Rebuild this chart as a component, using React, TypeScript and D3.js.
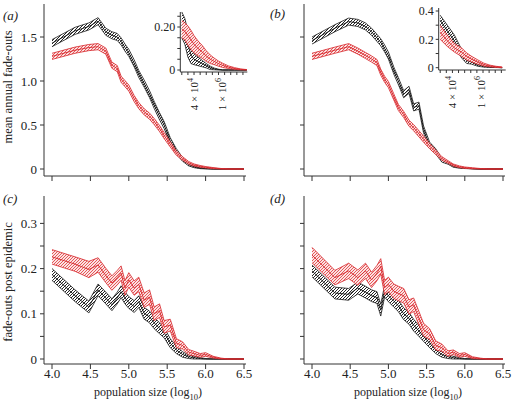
import React from "react";
import * as d3 from "d3";

// ---------- data ----------
const popLog = [4.0, 4.3, 4.48, 4.6, 4.7, 4.78, 4.85, 4.9, 4.95, 5.0, 5.07, 5.13, 5.2, 5.27, 5.33, 5.4, 5.46, 5.54, 5.62, 5.7, 5.78, 5.85, 5.93, 6.0, 6.1, 6.2, 6.3, 6.4, 6.5];

const aBlackMean = [1.43, 1.57, 1.62, 1.68, 1.56, 1.52, 1.5, 1.45, 1.38, 1.32, 1.2, 1.08, 0.97, 0.85, 0.73, 0.6, 0.5, 0.32, 0.2, 0.11, 0.05, 0.025, 0.01, 0.004, 0, 0, 0, 0, 0];
const aBlackErr = [0.04, 0.04, 0.04, 0.04, 0.04, 0.04, 0.04, 0.04, 0.04, 0.04, 0.04, 0.04, 0.04, 0.04, 0.04, 0.04, 0.04, 0.035, 0.03, 0.022, 0.015, 0.01, 0.006, 0.003, 0.001, 0, 0, 0, 0];
const aRedMean = [1.28, 1.35, 1.38, 1.39, 1.34, 1.18, 1.14, 1.02, 0.97, 0.92, 0.8, 0.72, 0.65, 0.6, 0.54, 0.46, 0.38, 0.28, 0.18, 0.12, 0.07, 0.045, 0.03, 0.02, 0.01, 0.003, 0, 0, 0];
const aRedErr = [0.035, 0.035, 0.035, 0.035, 0.035, 0.035, 0.035, 0.035, 0.035, 0.035, 0.035, 0.035, 0.035, 0.035, 0.035, 0.035, 0.035, 0.03, 0.025, 0.02, 0.015, 0.012, 0.01, 0.008, 0.006, 0.003, 0.001, 0, 0];

const bBlackMean = [1.46, 1.6, 1.675, 1.66, 1.62, 1.56, 1.49, 1.44, 1.37, 1.29, 1.12, 1.0, 0.85, 0.9, 0.7, 0.72, 0.45, 0.27, 0.2, 0.1, 0.07, 0.03, 0.015, 0.008, 0.003, 0, 0, 0, 0];
const bBlackErr = [0.04, 0.04, 0.04, 0.04, 0.04, 0.04, 0.04, 0.04, 0.04, 0.04, 0.04, 0.04, 0.04, 0.04, 0.04, 0.04, 0.04, 0.035, 0.03, 0.022, 0.015, 0.01, 0.006, 0.003, 0.001, 0, 0, 0, 0];
const bRedMean = [1.28, 1.35, 1.39, 1.34, 1.29, 1.25, 1.21, 1.1, 1.02, 0.96, 0.82, 0.7, 0.62, 0.52, 0.47, 0.4, 0.34, 0.26, 0.19, 0.12, 0.08, 0.045, 0.025, 0.015, 0.008, 0.003, 0, 0, 0];
const bRedErr = [0.035, 0.035, 0.035, 0.035, 0.035, 0.035, 0.035, 0.035, 0.035, 0.035, 0.035, 0.035, 0.035, 0.035, 0.035, 0.035, 0.035, 0.03, 0.025, 0.02, 0.015, 0.012, 0.01, 0.008, 0.006, 0.003, 0.001, 0, 0];

const cBlackMean = [0.187, 0.14, 0.115, 0.153, 0.135, 0.12, 0.135, 0.149, 0.135, 0.125, 0.116, 0.127, 0.101, 0.093, 0.08, 0.068, 0.058, 0.035, 0.02, 0.01, 0.005, 0.003, 0.001, 0, 0, 0, 0, 0, 0];
const cBlackErr = [0.013, 0.013, 0.013, 0.013, 0.013, 0.013, 0.013, 0.013, 0.013, 0.013, 0.013, 0.013, 0.013, 0.013, 0.013, 0.012, 0.011, 0.01, 0.008, 0.006, 0.004, 0.003, 0.002, 0.001, 0, 0, 0, 0, 0];
const cRedMean = [0.226, 0.21, 0.198, 0.208, 0.185, 0.168, 0.18, 0.19, 0.157, 0.175, 0.157, 0.165, 0.13, 0.137, 0.1, 0.107, 0.071, 0.075, 0.035, 0.03, 0.015, 0.012, 0.008, 0.01, 0.004, 0.001, 0, 0, 0];
const cRedErr = [0.016, 0.016, 0.018, 0.016, 0.016, 0.016, 0.016, 0.016, 0.016, 0.016, 0.016, 0.016, 0.016, 0.016, 0.015, 0.015, 0.014, 0.013, 0.01, 0.008, 0.006, 0.005, 0.004, 0.004, 0.002, 0.001, 0, 0, 0];

const dBlackMean = [0.195, 0.146, 0.143, 0.157, 0.148, 0.14, 0.136, 0.108, 0.15, 0.14, 0.128, 0.118, 0.1, 0.09, 0.075, 0.062, 0.05, 0.035, 0.02, 0.01, 0.005, 0.003, 0.001, 0, 0, 0, 0, 0, 0];
const dBlackErr = [0.013, 0.013, 0.013, 0.013, 0.013, 0.013, 0.013, 0.013, 0.013, 0.013, 0.013, 0.013, 0.013, 0.013, 0.013, 0.012, 0.011, 0.01, 0.008, 0.006, 0.004, 0.003, 0.002, 0.001, 0, 0, 0, 0, 0];
const dRedMean = [0.23, 0.18, 0.195, 0.18, 0.195, 0.175, 0.19, 0.205, 0.158, 0.165, 0.15, 0.145, 0.14, 0.115, 0.12, 0.09, 0.065, 0.055, 0.03, 0.025, 0.012, 0.015, 0.008, 0.01, 0.003, 0.001, 0, 0, 0];
const dRedErr = [0.017, 0.016, 0.017, 0.017, 0.017, 0.017, 0.017, 0.017, 0.016, 0.016, 0.016, 0.016, 0.016, 0.016, 0.015, 0.015, 0.014, 0.012, 0.01, 0.008, 0.006, 0.005, 0.004, 0.004, 0.002, 0.001, 0, 0, 0];

const insetALog = [4.0, 4.15, 4.3, 4.45, 4.6, 4.8, 5.0, 5.2, 5.4, 5.6, 5.8, 6.0, 6.3, 6.6, 6.9, 7.2];
const insetABlackMean = [0.21, 0.18, 0.12, 0.07, 0.05, 0.04, 0.03, 0.02, 0.01, 0.005, 0.002, 0, 0, 0, 0, 0];
const insetABlackErr = [0.06, 0.06, 0.06, 0.04, 0.025, 0.02, 0.015, 0.01, 0.008, 0.004, 0.002, 0, 0, 0, 0, 0];
const insetARedMean = [0.19, 0.18, 0.16, 0.14, 0.12, 0.1, 0.085, 0.065, 0.05, 0.04, 0.03, 0.022, 0.013, 0.007, 0.003, 0.001];
const insetARedErr = [0.04, 0.04, 0.045, 0.045, 0.04, 0.035, 0.03, 0.025, 0.02, 0.015, 0.012, 0.01, 0.006, 0.004, 0.002, 0.001];

const insetBLog = [4.0, 4.35, 4.7, 5.05, 5.3, 5.55, 5.85, 6.15, 6.45, 6.75, 7.05];
const insetBBlackMean = [0.335, 0.26, 0.19, 0.1, 0.05, 0.04, 0.02, 0.01, 0.005, 0.002, 0];
const insetBBlackErr = [0.035, 0.04, 0.04, 0.03, 0.02, 0.015, 0.01, 0.006, 0.003, 0.001, 0];
const insetBRedMean = [0.25, 0.19, 0.14, 0.11, 0.08, 0.06, 0.04, 0.022, 0.012, 0.006, 0.003];
const insetBRedErr = [0.05, 0.04, 0.03, 0.03, 0.025, 0.02, 0.015, 0.01, 0.006, 0.004, 0.002];

const xTicks = [4.0, 4.5, 5.0, 5.5, 6.0, 6.5];
const topYTicks = [0, 0.5, 1.0, 1.5];
const topYLabels = ["0", "0.5", "1.0", "1.5"];
const botYTicks = [0, 0.05, 0.1, 0.15, 0.2, 0.25, 0.3];
const botYLabels = ["0", "", "0.1", "", "0.2", "", "0.3"];
const insetXTicks = d3.range(0, 11).map((k) => Math.log10(1e4 * Math.pow(2, k)));
const insetXLabelVals = [Math.log10(4e4), 6];
const insetXLabelMant = ["4", "1"];
const insetXLabelExp = ["4", "6"];
const insetAYTicks = [0, 0.05, 0.1, 0.15, 0.2, 0.25];
const insetAYLabels = ["0", "", "", "", "0.20", ""];
const insetBYTicks = [0, 0.1, 0.2, 0.3, 0.4];
const insetBYLabels = ["0", "", "0.2", "", "0.4"];

const FONT = "'Liberation Serif', 'Times New Roman', serif";
const RED = "#d7262b";
const BLACK = "#1a1a1a";

type Sc = d3.ScaleLinear<number, number>;

function Band({ xs, mean, err, x, y, kind }: { xs: number[]; mean: number[]; err: number[]; x: Sc; y: Sc; kind: "k" | "r" }) {
  const idx = xs.map((_, i) => i);
  const area = d3
    .area<number>()
    .x((i) => x(xs[i]))
    .y0((i) => y(Math.max(0, mean[i] - err[i])))
    .y1((i) => y(mean[i] + err[i]));
  const lo = d3.line<number>().x((i) => x(xs[i])).y((i) => y(Math.max(0, mean[i] - err[i])));
  const hi = d3.line<number>().x((i) => x(xs[i])).y((i) => y(mean[i] + err[i]));
  const mid = d3.line<number>().x((i) => x(xs[i])).y((i) => y(mean[i]));
  const col = kind === "k" ? BLACK : RED;
  return (
    <g>
      <path d={area(idx) || ""} fill={kind === "k" ? "url(#hatchK)" : "url(#hatchR)"} stroke="none" />
      <path d={lo(idx) || ""} fill="none" stroke={col} strokeWidth={0.8} />
      <path d={hi(idx) || ""} fill="none" stroke={col} strokeWidth={0.8} />
      <path d={mid(idx) || ""} fill="none" stroke={col} strokeWidth={0.9} />
    </g>
  );
}

function MainPanel(props: {
  axisX: number; x: Sc; y: Sc; xAxisY: number; axisTop: number;
  yTicks: number[]; yLabels: string[] | null; xLabels: boolean;
  black: [number[], number[]]; red: [number[], number[]];
}) {
  const { axisX, x, y, xAxisY, axisTop, yTicks, yLabels, xLabels, black, red } = props;
  const axisCol = "#333";
  return (
    <g>
      <line x1={axisX} x2={axisX} y1={axisTop} y2={xAxisY} stroke={axisCol} strokeWidth={1} />
      <line x1={axisX} x2={x(6.5) + 2} y1={xAxisY} y2={xAxisY} stroke={axisCol} strokeWidth={1} />
      {yTicks.map((t, i) => (
        <g key={"y" + i}>
          <line x1={axisX - 4} x2={axisX} y1={y(t)} y2={y(t)} stroke={axisCol} />
          {yLabels && yLabels[i] ? (
            <text x={axisX - 7} y={y(t)} dy="0.35em" textAnchor="end" fontSize={13} fontFamily={FONT} fill="#222">
              {yLabels[i]}
            </text>
          ) : null}
        </g>
      ))}
      {xTicks.map((t, i) => (
        <g key={"x" + i}>
          <line x1={x(t)} x2={x(t)} y1={xAxisY} y2={xAxisY + 5} stroke={axisCol} />
          {xLabels ? (
            <text x={x(t)} y={xAxisY + 14} textAnchor="middle" fontSize={13} fontFamily={FONT} fill="#222">
              {t.toFixed(1)}
            </text>
          ) : null}
        </g>
      ))}
      <Band xs={popLog} mean={black[0]} err={black[1]} x={x} y={y} kind="k" />
      <Band xs={popLog} mean={red[0]} err={red[1]} x={x} y={y} kind="r" />
    </g>
  );
}

function Inset(props: {
  axisX: number; y: Sc; xAxisY: number; axisTop: number; yTicks: number[]; yLabels: string[];
  xs: number[]; black: [number[], number[]]; red: [number[], number[]];
}) {
  const { axisX, y, xAxisY, axisTop, yTicks, yLabels, xs, black, red } = props;
  const x = d3.scaleLinear().domain([4, 7.2]).range([axisX + 1.5, axisX + 66.5]);
  const axisCol = "#333";
  return (
    <g>
      <Band xs={xs} mean={black[0]} err={black[1]} x={x} y={y} kind="k" />
      <Band xs={xs} mean={red[0]} err={red[1]} x={x} y={y} kind="r" />
      <line x1={axisX} x2={axisX} y1={axisTop} y2={xAxisY} stroke={axisCol} />
      <line x1={axisX} x2={axisX + 67} y1={xAxisY} y2={xAxisY} stroke={axisCol} />
      {yTicks.map((t, i) => (
        <g key={"iy" + i}>
          <line x1={axisX - 3} x2={axisX} y1={y(t)} y2={y(t)} stroke={axisCol} />
          {yLabels[i] ? (
            <text x={axisX - 5} y={y(t)} dy="0.35em" textAnchor="end" fontSize={12} fontFamily={FONT} fill="#222">
              {yLabels[i]}
            </text>
          ) : null}
        </g>
      ))}
      {insetXTicks.map((t, i) => (
        <line key={"ix" + i} x1={x(t)} x2={x(t)} y1={xAxisY} y2={xAxisY + 3} stroke={axisCol} />
      ))}
      {insetXLabelVals.map((v, i) => (
        <text
          key={"il" + i}
          transform={`translate(${x(v)},${xAxisY + 6}) rotate(-90)`}
          textAnchor="end"
          dominantBaseline="central"
          fontSize={11}
          fontFamily={FONT}
          fill="#222"
        >
          {insetXLabelMant[i]} × 10
          <tspan dy={-4} fontSize={8}>{insetXLabelExp[i]}</tspan>
        </text>
      ))}
    </g>
  );
}

export default function App() {
  const xLeft = d3.scaleLinear().domain([4.0, 6.5]).range([52, 244]);
  const xRight = d3.scaleLinear().domain([4.0, 6.5]).range([312, 503]);
  const yTop = d3.scaleLinear().domain([0, 1.5]).range([169, 37]);
  const yBot = d3.scaleLinear().domain([0, 0.3]).range([359, 223.4]);
  const yInA = d3.scaleLinear().domain([0, 0.2]).range([70, 27]);
  const yInB = d3.scaleLinear().domain([0, 0.4]).range([67.7, 11]);

  return (
    <svg width={512} height={412} style={{ position: "fixed", left: 0, top: 0, background: "#fff" }}>
      <defs>
        <pattern id="hatchK" patternUnits="userSpaceOnUse" width={3} height={3}>
          <rect width={3} height={3} fill="#fff" />
          <path d="M-1,1 l2,-2 M0,3 l3,-3 M2,4 l2,-2" stroke="#222" strokeWidth={1} />
        </pattern>
        <pattern id="hatchR" patternUnits="userSpaceOnUse" width={3} height={3}>
          <rect width={3} height={3} fill="#fbe3e3" />
          <path d="M-1,1 l2,-2 M0,3 l3,-3 M2,4 l2,-2" stroke="#e2474a" strokeWidth={0.9} />
        </pattern>
      </defs>
      <rect width={512} height={412} fill="#fff" />

      <MainPanel axisX={44} x={xLeft} y={yTop} xAxisY={176} axisTop={4} yTicks={topYTicks} yLabels={topYLabels} xLabels={false}
        black={[aBlackMean, aBlackErr]} red={[aRedMean, aRedErr]} />
      <MainPanel axisX={304} x={xRight} y={yTop} xAxisY={176} axisTop={4} yTicks={topYTicks} yLabels={null} xLabels={false}
        black={[bBlackMean, bBlackErr]} red={[bRedMean, bRedErr]} />
      <MainPanel axisX={44} x={xLeft} y={yBot} xAxisY={364} axisTop={196} yTicks={botYTicks} yLabels={botYLabels} xLabels={true}
        black={[cBlackMean, cBlackErr]} red={[cRedMean, cRedErr]} />
      <MainPanel axisX={304} x={xRight} y={yBot} xAxisY={364} axisTop={196} yTicks={botYTicks} yLabels={null} xLabels={true}
        black={[dBlackMean, dBlackErr]} red={[dRedMean, dRedErr]} />

      <Inset axisX={180.3} y={yInA} xAxisY={72} axisTop={12} yTicks={insetAYTicks} yLabels={insetAYLabels}
        xs={insetALog} black={[insetABlackMean, insetABlackErr]} red={[insetARedMean, insetARedErr]} />
      <Inset axisX={438.7} y={yInB} xAxisY={70} axisTop={8} yTicks={insetBYTicks} yLabels={insetBYLabels}
        xs={insetBLog} black={[insetBBlackMean, insetBBlackErr]} red={[insetBRedMean, insetBRedErr]} />

      <g fontFamily={FONT} fill="#222">
        <text x={3} y={20} fontSize={13} fontStyle="italic">(a)</text>
        <text x={270} y={18} fontSize={13} fontStyle="italic">(b)</text>
        <text x={3} y={203} fontSize={13} fontStyle="italic">(c)</text>
        <text x={270} y={203} fontSize={13} fontStyle="italic">(d)</text>
        <text transform="translate(12,87) rotate(-90)" textAnchor="middle" fontSize={12.5}>mean annual fade-outs</text>
        <text transform="translate(12,282) rotate(-90)" textAnchor="middle" fontSize={12.5}>fade-outs post epidemic</text>
        <text x={148} y={396} textAnchor="middle" fontSize={12}>
          population size (log<tspan dy={4} fontSize={8.5}>10</tspan><tspan dy={-4}>)</tspan>
        </text>
        <text x={408} y={396} textAnchor="middle" fontSize={12}>
          population size (log<tspan dy={4} fontSize={8.5}>10</tspan><tspan dy={-4}>)</tspan>
        </text>
      </g>
    </svg>
  );
}
